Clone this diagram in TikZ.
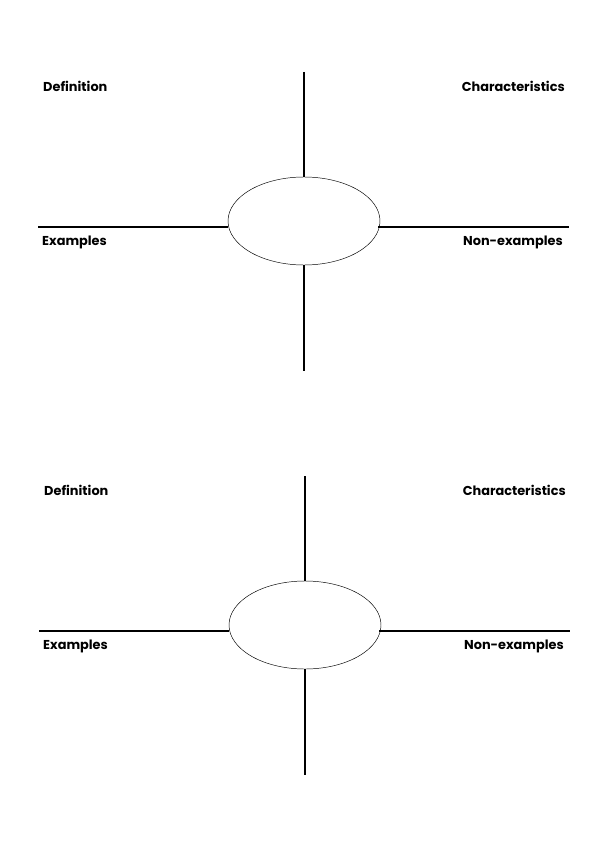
\documentclass[tikz,border=0pt]{standalone}
\usepackage{fontspec}
\setmainfont{Poppins}
\usetikzlibrary{shapes.geometric}
\tikzset{
  label/.style={font=\fontsize{11}{13}\selectfont\bfseries, inner sep=0pt},
  hub/.style={draw, ellipse, minimum width=152*0.03cm, minimum height=88*0.03cm, inner sep=0pt},
  arm/.style={line width=0.9pt}
}
\begin{document}
\begin{tikzpicture}[x=0.03cm,y=-0.03cm]
  \useasboundingbox (0,0) rectangle (600,849);
  \foreach \dx/\dy/\n in {0/0/a, 1/404/b}{
    \begin{scope}[shift={(\dx,\dy)}]
      \node[hub] (hub\n) at (304,221) {};
      \coordinate (top\n) at (304,72);
      \coordinate (bot\n) at (304,371);
      \coordinate (left\n) at (38,227);
      \coordinate (right\n) at (569,227);
      \draw[arm] (top\n) -- (hub\n.north);
      \draw[arm] (hub\n.south) -- (bot\n);
      \draw[arm] (left\n) -- (hub\n.west |- left\n) ++(2,0);
      \draw[arm] (hub\n.east |- right\n) ++(-2,0) -- (right\n);
      \node[label, anchor=west] (def\n) at (43,86) {Definition};
      \node[label, anchor=east] (char\n) at (565,86) {Characteristics};
      \node[label, anchor=west] (ex\n) at (42,242) {Examples};
      \node[label, anchor=east] (non\n) at (563,242) {Non-examples};
    \end{scope}
  }
\end{tikzpicture}
\end{document}
